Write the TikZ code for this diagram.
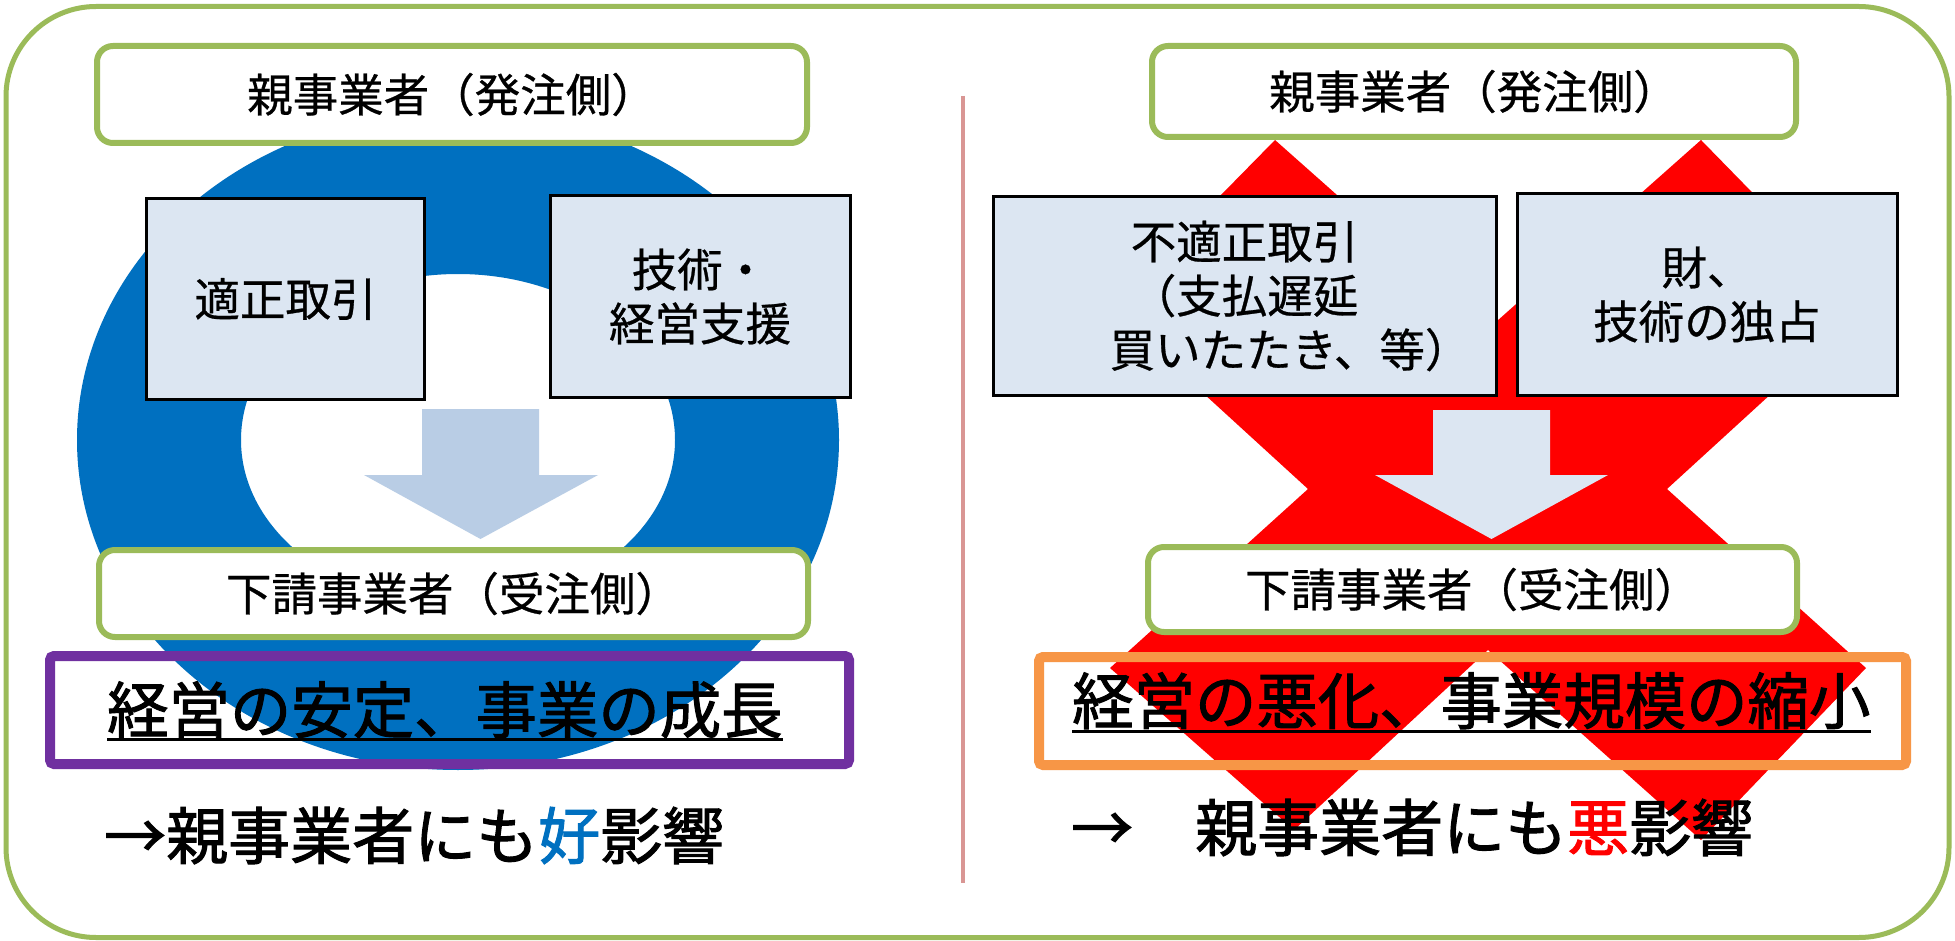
\documentclass[tikz,border=0pt]{standalone}
\usepackage{fontspec}
\setmainfont{Noto Sans CJK JP}
\newfontfamily\jpbig[FakeBold=1.6]{Noto Sans CJK JP}
\newfontfamily\jpmid[FakeBold=0.6]{Noto Sans CJK JP}
\begin{document}
\begin{tikzpicture}[x=1pt,y=-1pt]
\definecolor{frameg}{HTML}{9BBB59}
\definecolor{ringblue}{HTML}{0070C0}
\definecolor{lightbox}{HTML}{DCE6F2}
\definecolor{arrowblue}{HTML}{B9CDE5}
\definecolor{arrowpale}{HTML}{DCE6F2}
\definecolor{purp}{HTML}{7030A0}
\definecolor{orng}{HTML}{F79646}
\definecolor{xred}{HTML}{FF0000}
\definecolor{divcol}{HTML}{D99694}
\tikzset{
 gbox/.style={draw=frameg, line width=6pt, fill=white, rounded corners=16pt, inner sep=0pt, font=\jpmid\fontsize{45.5}{54}\selectfont},
 mbox/.style={draw=black, line width=3pt, fill=lightbox, inner sep=0pt, align=center, font=\jpmid\fontsize{45.5}{54}\selectfont},
 resbox/.style={line width=10pt, rounded corners=4pt, inner sep=0pt},
 bigtxt/.style={inner sep=0pt, anchor=base west, font=\jpbig\fontsize{61.4}{70}\selectfont},
 efftxt/.style={inner sep=0pt, anchor=base west, font=\jpbig\fontsize{62}{70}\selectfont},
 uline/.style={line width=3pt}
}
\fill[white] (0,0) rectangle (1955,941);
\useasboundingbox (0,0) rectangle (1955,941);

% blue ring (left)
\fill[ringblue, even odd rule] (458,440) ellipse [x radius=381pt, y radius=330pt]
  (458,440) ellipse [x radius=217pt, y radius=166pt];

% red cross (right)
\fill[xred] (1275,140) -- (1488,329) -- (1701,140) -- (1865,308) -- (1667,489)
  -- (1866,668) -- (1701,840) -- (1488,650) -- (1294,830) -- (1110,668)
  -- (1308,489) -- (1110,308) -- cycle;

% divider
\draw[divcol, line width=4.5pt] (963,96) -- (963,883);

% outer frame
\draw[frameg, line width=5pt, rounded corners=90pt] (6,6.5) rectangle (1949,937.5);

% ---------- left panel ----------
\node[gbox, minimum width=710pt, minimum height=97pt] (lparent) at (452,94.5) {親事業者（発注側）};
\node[mbox, minimum width=278pt, minimum height=201pt] (lfair) at (285.5,299) {適正取引};
\node[mbox, minimum width=300pt, minimum height=201pt] (lsupport) at (700,296.5) {技術・\\経営支援};
\fill[arrowblue] (422,409) -- (539,409) -- (539,475) -- (598,475) -- (480.5,539)
  -- (364,475) -- (422,475) -- cycle;
\node[gbox, minimum width=709pt, minimum height=87pt] (lsub) at (453.5,593.5) {下請事業者（受注側）};
\node[resbox, draw=purp, minimum width=799pt, minimum height=108pt] (lres) at (449.5,710) {};
\node[bigtxt] (lgood) at (107,733) {経営の安定、事業の成長};
\draw[uline] ([yshift=-6pt]lgood.base west) -- ([yshift=-6pt]lgood.base east);
\node[efftxt] (leff) at (104,859) {→親事業者にも\textcolor{ringblue}{好}影響};

% ---------- right panel ----------
\node[gbox, minimum width=644pt, minimum height=91pt] (rparent) at (1474,91.5) {親事業者（発注側）};
\node[mbox, minimum width=503pt, minimum height=198pt] (runfair) at (1244.5,296) {不適正取引\\（支払遅延\\\hspace*{2em}買いたたき、等）};
\node[mbox, minimum width=380pt, minimum height=201pt] (rmono) at (1707,294.5) {財、\\技術の独占};
\fill[arrowpale] (1433,410) -- (1550,410) -- (1550,475) -- (1608,475) -- (1491.5,539)
  -- (1375,475) -- (1433,475) -- cycle;
\node[gbox, minimum width=649pt, minimum height=85pt] (rsub) at (1472.5,589.5) {下請事業者（受注側）};
\node[resbox, draw=orng, minimum width=867pt, minimum height=108pt] (rres) at (1472.5,711) {};
\node[bigtxt] (rbad) at (1072,724) {経営の悪化、事業規模の縮小};
\draw[uline] ([yshift=-7pt]rbad.base west) -- ([yshift=-7pt]rbad.base east);
\node[efftxt] (reff) at (1071,851) {→　親事業者にも\textcolor{xred}{悪}影響};
\end{tikzpicture}
\end{document}
